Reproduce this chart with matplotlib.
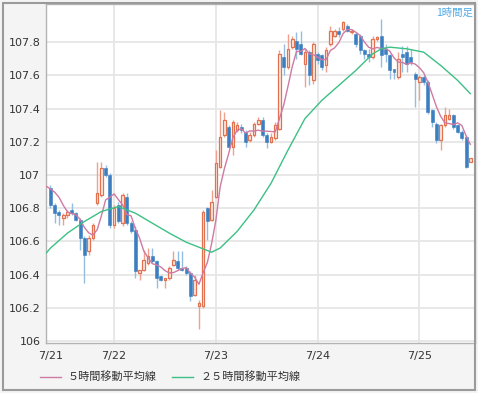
import numpy as np
import pandas as pd
import matplotlib
matplotlib.use('Agg')
import matplotlib.pyplot as plt
from matplotlib.patches import Rectangle
from matplotlib.ticker import FuncFormatter

# hourly candles, 7/21 09:00 -> 7/25
opens = [106.92, 106.82, 106.78, 106.74, 106.76, 106.79, 106.77, 106.73, 106.62, 106.54,
         106.62, 106.83, 106.88, 107.04, 107.00, 106.70, 106.82, 106.71, 106.87, 106.71,
         106.67, 106.41, 106.43, 106.47, 106.51, 106.48, 106.39, 106.37, 106.38, 106.46,
         106.48, 106.44, 106.44, 106.41, 106.28, 106.21, 106.21, 106.80, 106.73, 106.87,
         107.05, 107.24, 107.29, 107.17, 107.27, 107.29, 107.26, 107.21, 107.24, 107.31,
         107.33, 107.24, 107.20, 107.22, 107.28, 107.71, 107.65, 107.77, 107.81, 107.79,
         107.67, 107.74, 107.57, 107.73, 107.72, 107.66, 107.79, 107.84, 107.87, 107.88,
         107.90, 107.86, 107.85, 107.84, 107.75, 107.73, 107.71, 107.82, 107.84, 107.76,
         107.72, 107.64, 107.59, 107.73, 107.74, 107.71, 107.61, 107.56, 107.59, 107.56,
         107.39, 107.31, 107.21, 107.30, 107.34, 107.36, 107.30, 107.26, 107.23, 107.08]
highs = [106.94, 106.83, 106.79, 106.77, 106.79, 106.83, 106.78, 106.74, 106.63, 106.64,
         106.71, 107.08, 107.08, 107.06, 107.01, 106.82, 106.84, 106.89, 106.89, 106.72,
         106.69, 106.43, 106.55, 106.56, 106.56, 106.49, 106.40, 106.38, 106.45, 106.54,
         106.54, 106.54, 106.45, 106.42, 106.40, 106.25, 106.79, 106.81, 106.91, 107.15,
         107.39, 107.38, 107.30, 107.33, 107.32, 107.31, 107.27, 107.26, 107.32, 107.35,
         107.35, 107.25, 107.25, 107.32, 107.75, 107.79, 107.85, 107.84, 107.86, 107.87,
         107.76, 107.75, 107.80, 107.74, 107.73, 107.77, 107.90, 107.88, 107.89, 107.93,
         107.91, 107.88, 107.86, 107.85, 107.76, 107.76, 107.84, 107.84, 107.94, 107.79,
         107.73, 107.64, 107.74, 107.78, 107.78, 107.76, 107.62, 107.60, 107.60, 107.57,
         107.40, 107.32, 107.31, 107.41, 107.40, 107.37, 107.31, 107.27, 107.24, 107.10]
lows = [106.80, 106.71, 106.70, 106.70, 106.74, 106.76, 106.72, 106.55, 106.35, 106.52,
        106.61, 106.82, 106.87, 106.99, 106.68, 106.68, 106.71, 106.69, 106.70, 106.65,
        106.38, 106.37, 106.42, 106.46, 106.47, 106.32, 106.36, 106.32, 106.37, 106.45,
        106.43, 106.42, 106.40, 106.24, 106.27, 106.07, 106.20, 106.61, 106.72, 106.86,
        107.04, 107.23, 107.16, 107.12, 107.26, 107.25, 107.17, 107.20, 107.23, 107.30,
        107.23, 107.16, 107.19, 107.21, 107.27, 107.60, 107.64, 107.76, 107.70, 107.72,
        107.53, 107.54, 107.55, 107.67, 107.63, 107.62, 107.78, 107.83, 107.83, 107.87,
        107.86, 107.85, 107.77, 107.73, 107.70, 107.68, 107.70, 107.81, 107.65, 107.68,
        107.58, 107.58, 107.58, 107.62, 107.62, 107.66, 107.41, 107.45, 107.54, 107.37,
        107.29, 107.19, 107.15, 107.29, 107.33, 107.28, 107.25, 107.21, 107.04, 107.08]
closes = [106.82, 106.77, 106.76, 106.76, 106.78, 106.77, 106.73, 106.62, 106.52, 106.62,
          106.70, 106.89, 107.04, 107.00, 106.70, 106.80, 106.72, 106.88, 106.71, 106.66,
          106.42, 106.43, 106.49, 106.51, 106.48, 106.38, 106.37, 106.38, 106.44, 106.49,
          106.44, 106.43, 106.41, 106.27, 106.37, 106.23, 106.78, 106.72, 106.84, 107.07,
          107.23, 107.33, 107.17, 107.32, 107.30, 107.27, 107.20, 107.24, 107.31, 107.33,
          107.24, 107.20, 107.23, 107.30, 107.73, 107.65, 107.76, 107.82, 107.76, 107.73,
          107.74, 107.60, 107.79, 107.69, 107.65, 107.75, 107.87, 107.87, 107.85, 107.92,
          107.87, 107.87, 107.79, 107.75, 107.73, 107.71, 107.82, 107.83, 107.72, 107.73,
          107.63, 107.62, 107.70, 107.71, 107.67, 107.68, 107.58, 107.59, 107.56, 107.38,
          107.32, 107.21, 107.30, 107.36, 107.36, 107.29, 107.26, 107.22, 107.05, 107.10]
# closes of the hours just before the chart (for the 5h average)
pre_closes = [106.90, 106.87, 106.91, 107.00, 106.98]

# 25h average
ma25_idx = [-1, 0, 4, 8, 12, 16, 20, 24, 28, 32, 36, 38, 40, 44, 48, 52, 56, 60,
            64, 68, 72, 76, 78, 80, 84, 88, 92, 96, 99]
ma25_val = [106.53, 106.56, 106.65, 106.72, 106.78, 106.81, 106.77, 106.71, 106.65,
            106.595, 106.555, 106.535, 106.56, 106.66, 106.79, 106.95, 107.15, 107.34,
            107.45, 107.54, 107.63, 107.73, 107.76, 107.77, 107.76, 107.74, 107.66,
            107.57, 107.49]

day_labels = ['7/21', '7/22', '7/23', '7/24', '7/25']
day_idx = [0, 15, 39, 63, 87]
y_ticks = [106, 106.2, 106.4, 106.6, 106.8, 107, 107.2, 107.4, 107.6, 107.8]

jp = ['Noto Sans CJK JP', 'DejaVu Sans']

o = np.array(opens); h = np.array(highs); l = np.array(lows); c = np.array(closes)
x = np.arange(len(c))
up = c >= o

all_c = pd.Series(pre_closes + closes)
ma5 = all_c.rolling(5).mean().values[len(pre_closes) - 1:]
x5 = np.arange(-1, len(c))

fig = plt.figure(figsize=(4.78, 3.93), dpi=100)
fig.patch.set_facecolor('#f4f4f4')
ax = fig.add_axes([46/478, 1 - 343/393, (475 - 46)/478, (343 - 4)/393])
ax.set_facecolor('white')

# wicks
ax.vlines(x[up], l[up], h[up], color='#f0a08c', lw=1, zorder=2)
ax.vlines(x[~up], l[~up], h[~up], color='#93bde3', lw=1, zorder=2)
# bodies
ax.bar(x[up], c[up] - o[up], bottom=o[up], width=0.62, color='#fdebe5',
       edgecolor='#e2714f', linewidth=0.9, zorder=3)
ax.bar(x[~up], o[~up] - c[~up], bottom=c[~up], width=0.7, color='#3b7fc1',
       edgecolor='#3b7fc1', linewidth=0.4, zorder=3)

l5, = ax.plot(x5, ma5, color='#cf7aa3', lw=1, zorder=4)
l25, = ax.plot(ma25_idx, ma25_val, color='#3cc084', lw=1, zorder=4)

ax.set_xlim(-1.06, 100.1)
ax.set_ylim(105.988, 108.03)
ax.set_yticks(y_ticks)
ax.yaxis.set_major_formatter(FuncFormatter(lambda v, p: '%g' % round(v, 1)))
ax.set_xticks(day_idx)
ax.set_xticklabels(day_labels)
ax.tick_params(length=0, labelsize=8, colors='#333333', pad=4)
ax.tick_params(axis='x', pad=6)
ax.grid(axis='y', color='#e6e6e6', lw=1.3, zorder=0)
for d in day_idx[1:]:
    ax.axvline(d, color='#e6e6e6', lw=1.3, zorder=0)
for s in ax.spines.values():
    s.set_color('#b4b4b4')
    s.set_linewidth(1)

ax.text(0.995, 0.99, '1時間足', transform=ax.transAxes, ha='right', va='top',
        color='#4fa9e6', fontsize=7.5, family=jp)

fig.legend([l5, l25], ['５時間移動平均線', '２５時間移動平均線'],
           loc='center', bbox_to_anchor=(170/478, 1 - 377/393), ncol=2,
           frameon=False, handlelength=1.9, handletextpad=0.6, columnspacing=1.4,
           prop={'family': jp, 'size': 8}, labelcolor='#333333')

fig.add_artist(Rectangle((3/478, 3/393), 472/478, 387/393, transform=fig.transFigure,
                         fill=False, edgecolor='#9a9a9a', lw=1.5))

fig.savefig('out.png', dpi=100, facecolor=fig.get_facecolor())
